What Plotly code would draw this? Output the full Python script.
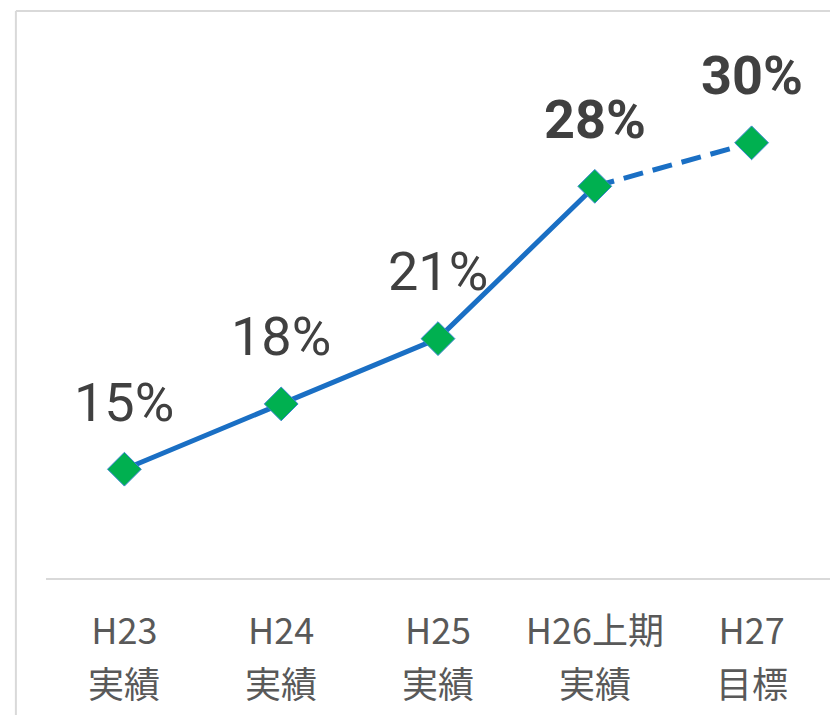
import plotly.graph_objects as go

tick_top = ["H23", "H24", "H25", "H26上期", "H27"]
tick_bottom = ["実績", "実績", "実績", "実績", "目標"]
values = [15, 18, 21, 28, 30]
labels = ["15%", "18%", "21%", "28%", "30%"]
bold = [False, False, False, True, True]
n_actual = 4  # first four are actual (solid), last segment is target (dashed)

LINE = "#1a6fc4"
MARK = "#00b050"
TICKC = "#595959"

fig = go.Figure()
# solid actual line
fig.add_trace(go.Scatter(
    x=list(range(n_actual)), y=values[:n_actual], mode="lines",
    line=dict(color=LINE, width=5), hoverinfo="skip", showlegend=False))
# dashed target segment
fig.add_trace(go.Scatter(
    x=list(range(n_actual - 1, len(values))), y=values[n_actual - 1:], mode="lines",
    line=dict(color=LINE, width=5, dash="20px,10px"), hoverinfo="skip", showlegend=False))
# markers
fig.add_trace(go.Scatter(
    x=list(range(len(values))), y=values, mode="markers",
    marker=dict(symbol="diamond", size=26, color=MARK, line=dict(color="#3a86d0", width=1)),
    showlegend=False))

for i, (v, t, b) in enumerate(zip(values, labels, bold)):
    fig.add_annotation(
        x=i, y=v, text=f"<b>{t}</b>" if b else t, showarrow=False,
        yshift=67, yanchor="middle", xanchor="center",
        font=dict(family="Roboto", size=54, color="#404040"))

# second line of category labels
for i, t in enumerate(tick_bottom):
    fig.add_annotation(
        x=i, xref="x", y=-0.1912, yref="paper", text=t, showarrow=False,
        yanchor="middle", xanchor="center",
        font=dict(family="Noto Sans CJK JP", size=36, color=TICKC))

# outer light border (top and left)
fig.add_shape(type="line", xref="paper", yref="paper",
              x0=-0.0384, x1=1.01, y0=1.0423, y1=1.0423,
              line=dict(color="#d9d9d9", width=2))
fig.add_shape(type="line", xref="paper", yref="paper",
              x0=-0.0384, x1=-0.0384, y0=1.0423, y1=-0.26,
              line=dict(color="#d9d9d9", width=2))

fig.update_layout(
    width=830, height=715,
    margin=dict(l=46, r=0, t=34, b=137),
    paper_bgcolor="white", plot_bgcolor="white",
    xaxis=dict(
        tickmode="array", tickvals=list(range(len(tick_top))), ticktext=tick_top,
        range=[-0.5, len(tick_top) - 0.5],
        showgrid=False, zeroline=False, showline=True, linecolor="#d9d9d9", linewidth=2,
        ticks="", ticklabelstandoff=21,
        tickfont=dict(family="Noto Sans CJK JP", size=36, color=TICKC)),
    yaxis=dict(range=[10, 35], visible=False, showgrid=False, zeroline=False),
)

fig.write_html("out.html")
